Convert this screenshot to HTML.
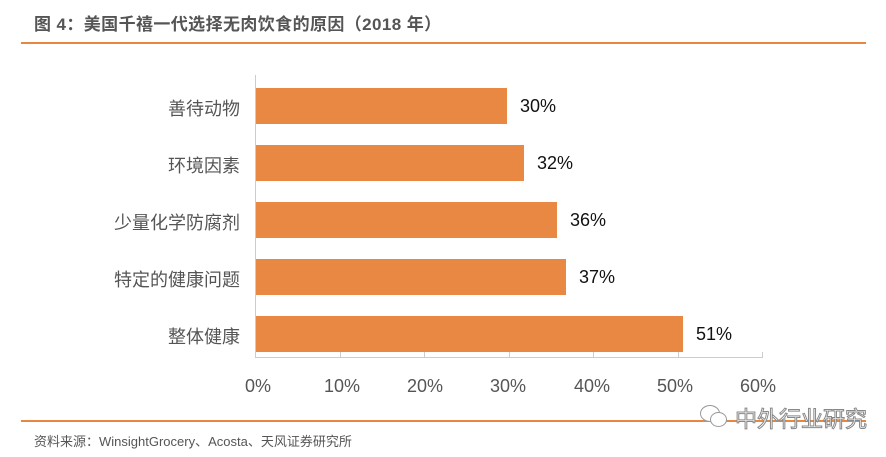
<!DOCTYPE html>
<html><head><meta charset="utf-8"><style>
body{margin:0;width:886px;height:457px;background:#fff;overflow:hidden;font-family:"Liberation Sans","Noto Sans CJK SC",sans-serif;position:relative}
.t{position:absolute;left:34px;top:10px;font-size:17px;letter-spacing:0.4px;font-weight:bold;color:#555}
.hl{position:absolute;left:21px;width:845px;height:2px;background:#E8873F}
.bar{position:absolute;left:256px;height:36px;background:#E98842}
.cat{position:absolute;right:646px;font-size:18px;color:#555;text-align:right;white-space:nowrap}
.val{position:absolute;font-size:18px;color:#111}
.xl{position:absolute;top:376px;font-size:18px;color:#555;width:60px;text-align:center;margin-left:-30px}
.tk{position:absolute;top:352px;width:1px;height:6px;background:#ccc}
</style></head><body>
<div class="t">图 4：美国千禧一代选择无肉饮食的原因（2018 年）</div>
<div class="hl" style="top:42px"></div>
<div style="position:absolute;left:255px;top:75px;width:1px;height:283px;background:#ccc"></div>
<div style="position:absolute;left:255px;top:357px;width:508px;height:1px;background:#ccc"></div>
<div class="tk" style="left:340px"></div><div class="tk" style="left:424px"></div><div class="tk" style="left:509px"></div><div class="tk" style="left:593px"></div><div class="tk" style="left:678px"></div><div class="tk" style="left:762px"></div>
<div class="bar" style="top:88px;width:251px"></div>
<div class="bar" style="top:145px;width:268px"></div>
<div class="bar" style="top:202px;width:301px"></div>
<div class="bar" style="top:259px;width:310px"></div>
<div class="bar" style="top:316px;width:427px"></div>
<div class="cat" style="top:95px">善待动物</div>
<div class="cat" style="top:152px">环境因素</div>
<div class="cat" style="top:209px">少量化学防腐剂</div>
<div class="cat" style="top:266px">特定的健康问题</div>
<div class="cat" style="top:323px">整体健康</div>
<div class="val" style="left:520px;top:96px">30%</div>
<div class="val" style="left:537px;top:153px">32%</div>
<div class="val" style="left:570px;top:210px">36%</div>
<div class="val" style="left:579px;top:267px">37%</div>
<div class="val" style="left:696px;top:324px">51%</div>
<div class="xl" style="left:258px">0%</div><div class="xl" style="left:342px">10%</div><div class="xl" style="left:425px">20%</div><div class="xl" style="left:508px">30%</div><div class="xl" style="left:592px">40%</div><div class="xl" style="left:675px">50%</div><div class="xl" style="left:758px">60%</div>
<div class="hl" style="top:420px"></div>
<div style="position:absolute;left:34px;top:431px;font-size:13px;color:#555">资料来源：WinsightGrocery、Acosta、天风证券研究所</div>
<div style="position:absolute;left:735px;top:402px;font-size:22px;color:#fff;-webkit-text-stroke:1px #888">中外行业研究</div>
<div style="position:absolute;left:700px;top:405px;width:18px;height:15px;border:1px solid #999;border-radius:50%;background:#fff"></div>
<div style="position:absolute;left:710px;top:412px;width:15px;height:13px;border:1px solid #999;border-radius:50%;background:#fff"></div>
</body></html>
